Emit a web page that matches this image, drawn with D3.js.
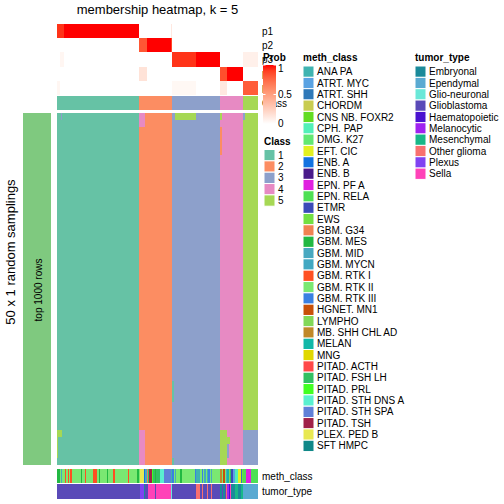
<!DOCTYPE html>
<html><head><meta charset="utf-8">
<script src="https://cdn.jsdelivr.net/npm/d3@7"></script>
<style>body{margin:0;background:#fff}svg{display:block;font-family:"Liberation Sans",Arial,sans-serif}</style>
</head><body><svg id="c" width="504" height="504"></svg>
<script>
// ---------- data ----------
const classLevels = ["1","2","3","4","5"];
const classColors = ["#66C2A5","#FC8D62","#8DA0CB","#E78AC3","#A6D854"];
// consensus class of each column, as runs [count, class]
const classRuns = [[61,1],[25,2],[36,3],[17,4],[11,5]];
const probRows = ["p1","p2","p3","p4","p5"];
// membership probabilities per column, as runs [count, value]
const p1Runs = [[5,0.93],[56,1],[24,0],[1,0.12],[64,0]];
const p2Runs = [[61,0],[6,0.82],[18,1],[1,0.88],[64,0]];
const p3Runs = [[2,0],[3,0.05],[81,0],[18,0.93],[18,1],[17,0],[11,0.08]];
const p4Runs = [[61,0],[6,0.15],[55,0],[5,0.85],[12,1],[11,0]];
const p5Runs = [[2,0.05],[84,0],[18,0.04],[18,0],[5,0.12],[12,0],[11,0.8]];
const nSamplings = 50;
// deviating class calls in the sampling matrix: [rowFrom,rowTo,colFrom,colTo,class]
const samplingExceptions = [
  [0,0,3,3,3],[0,1,61,65,4],[0,0,88,103,5],[0,0,122,122,5],[2,5,122,122,2],
  [0,0,139,139,3],[45,49,61,65,4],[45,45,0,3,5],[46,48,0,0,5],[38,40,86,86,1],
  [49,49,86,86,1],[45,49,122,126,5],[46,46,127,128,5],[47,48,127,127,3],[45,49,139,149,3]
];
const methClasses = ["ANA PA","ATRT. MYC","ATRT. SHH","CHORDM","CNS NB. FOXR2","CPH. PAP","DMG. K27",
  "EFT. CIC","ENB. A","ENB. B","EPN. PF A","EPN. RELA","ETMR","EWS","GBM. G34","GBM. MES","GBM. MID",
  "GBM. MYCN","GBM. RTK I","GBM. RTK II","GBM. RTK III","HGNET. MN1","LYMPHO","MB. SHH CHL AD","MELAN",
  "MNG","PITAD. ACTH","PITAD. FSH LH","PITAD. PRL","PITAD. STH DNS A","PITAD. STH SPA","PITAD. TSH",
  "PLEX. PED B","SFT HMPC"];
const methColors = ["#3FB3B0","#5AA2E2","#2F78B8","#C8CC50","#62DC22","#52F0B8","#62E872",
  "#E2F022","#1272E0","#4A1A8A","#E022E0","#4EE054","#3A4AB8","#72E042","#F08252","#22B842","#48A8C0",
  "#42A8C2","#FF5022","#7AE872","#3A80E2","#C85008","#82D858","#C08828","#12B8A8",
  "#E0D800","#FF4848","#32C062","#42FF22","#5AF0D0","#6080D8","#A02048",
  "#E8E852","#108888"];
const tumorTypes = ["Embryonal","Ependymal","Glio-neuronal","Glioblastoma","Haematopoietic",
  "Melanocytic","Mesenchymal","Other glioma","Plexus","Sella"];
const tumorColors = ["#1A8A9A","#5AAAD2","#6AE8D8","#5A4AB8","#4A12D0","#A022F0","#18B888",
  "#F87070","#8042F2","#FF42B8"];
// methylation class index of each column
const methByColumn = [
  15,15,19,16,19,19,18,19,18,19,18,19,19,19,19,19,19,19,15,19,19,18,19,19,19,19,19,18,18,18,
  19,15,19,19,19,19,19,15,19,19,19,19,18,19,19,19,19,19,19,19,19,19,19,18,19,19,19,19,19,19,15,
  19,32,32,32,8,16,14,27,31,31,28,27,15,27,27,27,29,29,29,30,30,30,30,30,0,
  20,19,16,19,19,19,15,19,19,19,19,19,19,19,19,19,19,20,0,0,0,19,20,19,17,19,0,20,19,16,19,19,19,19,19,19,
  23,19,21,19,16,24,22,27,12,1,1,5,5,7,7,2,13,
  11,11,10,10,10,10,11,11,11,11,11];
// tumour type index of each column
const tumorByColumn = [
  3,3,3,3,3,3,3,3,3,3,3,3,3,3,3,3,3,3,3,3,3,3,3,3,3,3,3,3,3,3,
  3,3,3,3,3,3,3,3,3,3,3,3,3,3,3,3,3,3,3,3,3,3,3,3,3,3,3,3,3,3,3,
  3,8,8,8,0,3,3,9,9,9,9,9,3,9,9,9,9,9,9,9,9,9,9,9,2,
  3,3,3,3,3,3,3,3,3,3,3,3,3,3,3,3,3,3,7,7,7,3,7,3,3,3,7,3,3,7,3,3,3,3,3,3,
  0,3,0,3,7,5,4,9,0,0,0,6,6,0,0,6,6,
  1,1,1,1,1,1,1,1,1,1,1];

// ---------- helpers ----------
const expand = runs => runs.flatMap(([n, v]) => Array(n).fill(v));
const colClass = expand(classRuns);
const probs = [p1Runs,p2Runs,p3Runs,p4Runs,p5Runs].map(expand);
const nCol = colClass.length;

const svg = d3.select("#c");
const x = d3.scaleBand().domain(d3.range(nCol)).range([57, 258]);
const yProb = d3.scaleBand().domain(probRows).range([24, 95]);
const yMain = d3.scaleBand().domain(d3.range(nSamplings)).range([113, 465]);
const classColor = d3.scaleOrdinal().domain(classLevels).range(classColors);
const methColor = d3.scaleOrdinal().domain(methClasses).range(methColors);
const tumorColor = d3.scaleOrdinal().domain(tumorTypes).range(tumorColors);
const probColor = d3.scaleLinear().domain([0, 1]).range(["#ffffff", "#ff0000"]).interpolate(d3.interpolateLab);

// draw one horizontal strip of cells, merging neighbouring cells of equal colour
function strip(g, colours, y0, h) {
  const segs = [];
  colours.forEach((col, c) => {
    const last = segs[segs.length - 1];
    if (last && last.col === col) last.end = c; else segs.push({start: c, end: c, col});
  });
  g.selectAll(null).data(segs).join("rect")
    .attr("x", d => x(d.start)).attr("width", d => x(d.end) + x.bandwidth() - x(d.start))
    .attr("y", y0).attr("height", h).attr("fill", d => d.col)
    .attr("shape-rendering", "crispEdges");
}

// ---------- membership rows ----------
probRows.forEach((row, i) => strip(svg.append("g"), probs[i].map(probColor), yProb(row), yProb.bandwidth()));
strip(svg.append("g"), colClass.map(k => classColor(String(k))), 96, 14);

// ---------- sampling matrix ----------
const gMain = svg.append("g");
for (let r = 0; r < nSamplings; r++) {
  const rowCols = colClass.map((k0, c) => {
    let k = k0;
    for (const [r0, r1, c0, c1, kk] of samplingExceptions)
      if (r >= r0 && r <= r1 && c >= c0 && c <= c1) k = kk;
    return classColor(String(k));
  });
  strip(gMain.append("g"), rowCols, yMain(r), yMain.bandwidth());
}

// left annotation
svg.append("rect").attr("x", 23).attr("y", 113).attr("width", 28).attr("height", 352).attr("fill", "#7FC97F");
svg.append("text").attr("transform", "translate(38,290) rotate(-90)").attr("text-anchor", "middle")
  .attr("dominant-baseline", "central").attr("font-size", 10).text("top 1000 rows");
svg.append("text").attr("transform", "translate(10,252) rotate(-90)").attr("text-anchor", "middle")
  .attr("dominant-baseline", "central").attr("font-size", 13).text("50 x 1 random samplings");

// bottom annotations
strip(svg.append("g"), methByColumn.map(i => methColor(methClasses[i])), 469, 14);
strip(svg.append("g"), tumorByColumn.map(i => tumorColor(tumorTypes[i])), 484, 15);

// title
svg.append("text").attr("x", 157.5).attr("y", 13.5).attr("text-anchor", "middle")
  .attr("font-size", 13).text("membership heatmap, k = 5");

// row labels
probRows.forEach(row => svg.append("text").attr("x", 262).attr("y", yProb(row) + yProb.bandwidth() / 2)
  .attr("dominant-baseline", "central").attr("font-size", 10).text(row));
svg.append("text").attr("x", 262).attr("y", 103).attr("dominant-baseline", "central").attr("font-size", 10).text("Class");
svg.append("text").attr("x", 262).attr("y", 476).attr("dominant-baseline", "central").attr("font-size", 10).text("meth_class");
svg.append("text").attr("x", 262).attr("y", 491.5).attr("dominant-baseline", "central").attr("font-size", 10).text("tumor_type");

// ---------- legends ----------
const defs = svg.append("defs");
const grad = defs.append("linearGradient").attr("id", "pg").attr("x1", 0).attr("x2", 0).attr("y1", 0).attr("y2", 1);
d3.range(0, 1.0001, 0.1).forEach(t => grad.append("stop").attr("offset", t).attr("stop-color", probColor(1 - t)));
svg.append("text").attr("x", 263).attr("y", 61).attr("font-size", 10).attr("font-weight", "bold").text("Prob");
const legY = d3.scaleLinear().domain([1, 0]).range([65, 124]);
svg.append("rect").attr("x", 263).attr("y", legY(1)).attr("width", 13).attr("height", legY(0) - legY(1)).attr("fill", "url(#pg)");
[1, 0.5, 0].forEach(v => {
  const yy = legY(v);
  svg.append("line").attr("x1", 263).attr("x2", 265.5).attr("y1", yy).attr("y2", yy).attr("stroke", "#fff");
  svg.append("line").attr("x1", 273.5).attr("x2", 276).attr("y1", yy).attr("y2", yy).attr("stroke", "#fff");
  svg.append("text").attr("x", 278).attr("y", Math.min(Math.max(yy, 68), 123.5)).attr("dominant-baseline", "central")
    .attr("font-size", 10).text(v === 0.5 ? "0.5" : String(v));
});

function discreteLegend(x0, title, labels, scale, boxTop, titleY) {
  svg.append("text").attr("x", x0).attr("y", titleY).attr("font-size", 10).attr("font-weight", "bold").text(title);
  const g = svg.append("g");
  const step = 11.34;
  labels.forEach((lab, i) => {
    g.append("rect").attr("x", x0).attr("y", boxTop + i * step).attr("width", 11).attr("height", step)
      .attr("fill", scale(lab)).attr("stroke", "#fff").attr("stroke-width", 1);
    g.append("text").attr("x", x0 + 14).attr("y", boxTop + i * step + step / 2).attr("dominant-baseline", "central")
      .attr("font-size", 10).text(lab);
  });
}
discreteLegend(264, "Class", classLevels, classColor, 149.5, 145);
discreteLegend(303, "meth_class", methClasses, methColor, 66, 61);
discreteLegend(415, "tumor_type", tumorTypes, tumorColor, 66, 61);
</script></body></html>
